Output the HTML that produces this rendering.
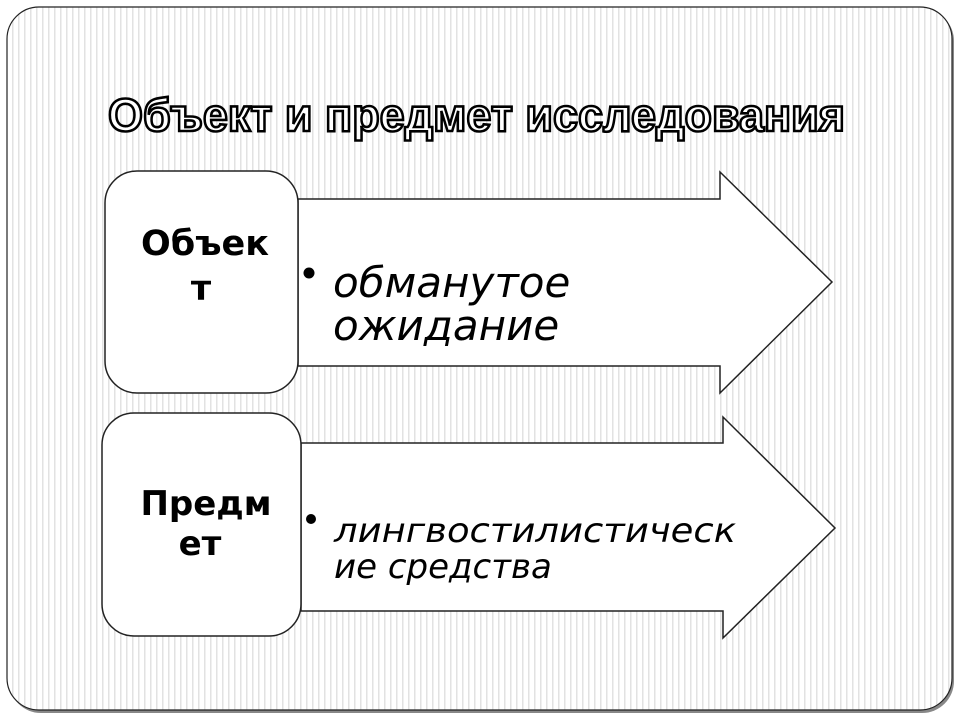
<!DOCTYPE html>
<html><head><meta charset="utf-8"><style>
html,body{margin:0;padding:0;width:960px;height:720px;background:#fff;overflow:hidden}
</style></head><body>
<svg width="960" height="720" xmlns="http://www.w3.org/2000/svg">
<defs>
<pattern id="st" width="6" height="10" patternUnits="userSpaceOnUse">
<rect width="6" height="10" fill="#fff"/><rect width="1.5" height="10" fill="#e2e2e2"/>
</pattern>
</defs>
<rect x="9" y="9" width="945" height="704" rx="32" fill="#888"/>
<rect x="7" y="7" width="945" height="703" rx="32" fill="url(#st)" stroke="#222" stroke-width="1.2"/>
<text x="108" y="131" font-family="Liberation Sans, sans-serif" font-weight="bold" font-size="46" fill="#fff" stroke="#000" stroke-width="2.6" paint-order="normal" textLength="737" lengthAdjust="spacingAndGlyphs">Объект и предмет исследования</text>
<polygon points="298,199 720,199 720,172 832,282 720,393 720,366 298,366" fill="#fff" stroke="#222" stroke-width="1.5"/>
<rect x="105" y="171" width="193" height="222" rx="32" fill="#fff" stroke="#222" stroke-width="1.5"/>
<polygon points="301,443 723,443 723,417 835,528 723,638 723,611 301,611" fill="#fff" stroke="#222" stroke-width="1.5"/>
<rect x="102" y="413" width="199" height="223" rx="32" fill="#fff" stroke="#222" stroke-width="1.5"/>
<g font-family="DejaVu Sans, sans-serif" font-weight="bold" fill="#000" text-anchor="middle">
<text x="205" y="255" font-size="35">Объек</text>
<text x="201" y="300" font-size="35">т</text>
<text x="206" y="515" font-size="34">Предм</text>
<text x="200" y="555" font-size="34">ет</text>
</g>
<g font-family="DejaVu Sans, sans-serif" font-style="italic" fill="#000">
<circle cx="309" cy="273" r="5.5"/>
<text x="333" y="297" font-size="42">обманутое</text>
<text x="333" y="340" font-size="42">ожидание</text>
<circle cx="311" cy="519" r="5"/>
<text x="334" y="542" font-size="34" textLength="402" lengthAdjust="spacingAndGlyphs">лингвостилистическ</text>
<text x="334" y="578" font-size="34">ие средства</text>
</g>
</svg>
</body></html>
